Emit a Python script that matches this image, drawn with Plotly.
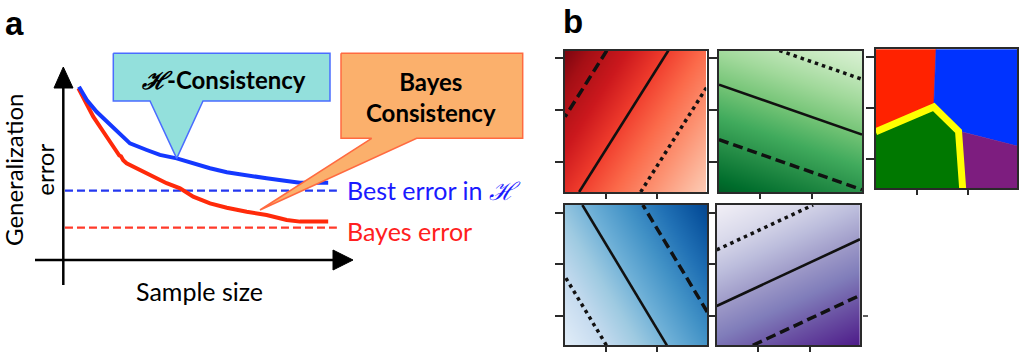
import plotly.graph_objects as go
import plotly.colors as pc

W, H = 1022, 352

# ---------------- Panel a : schematic learning curves ----------------
sample_blue = [0.056, 0.084, 0.119, 0.167, 0.200, 0.208, 0.214, 0.225, 0.238, 0.298, 0.345, 0.405,
               0.464, 0.524, 0.584, 0.655, 0.726, 0.798, 0.845, 0.946]
error_blue = [0.912, 0.842, 0.780, 0.711, 0.668, 0.655, 0.650, 0.628, 0.614, 0.579, 0.553, 0.535,
              0.509, 0.483, 0.462, 0.444, 0.430, 0.416, 0.407, 0.407]
sample_red = [0.054, 0.078, 0.107, 0.143, 0.185, 0.195, 0.200, 0.206, 0.214, 0.226, 0.274, 0.321,
              0.369, 0.417, 0.464, 0.524, 0.584, 0.655, 0.726, 0.798, 0.845, 0.946]
error_red = [0.904, 0.833, 0.754, 0.675, 0.579, 0.562, 0.550, 0.546, 0.525, 0.509, 0.474, 0.438,
             0.404, 0.377, 0.333, 0.298, 0.275, 0.254, 0.237, 0.211, 0.202, 0.202]
best_error_in_H = 0.365
bayes_error = 0.170
level_span = [0.006, 0.977]

# ---------------- Panel b : linear score surfaces (corner values) ----------------
# rows: y=0, y=1 ; columns: x=0, x=1
red_scores = [[0.23, -2.07], [1.68, -0.62]]
green_scores = [[1.95, 1.04], [-0.62, -1.52]]
blue_scores = [[-1.685, 0.668], [-0.287, 2.066]]
purple_scores = [[0.70, 1.89], [-1.80, -0.61]]
contour_levels = [1.0, 0.0, -1.0]
contour_dashes = ["10px,5px", "solid", "3.5px,4px"]

# decision regions (polygon vertices in panel units)
region_red = [(0, 1), (0.426, 1), (0.41, 0.585), (0, 0.407)]
region_blue = [(0.426, 1), (1, 1), (1, 0.304), (0.595, 0.41), (0.41, 0.585)]
region_green = [(0, 0.407), (0.41, 0.585), (0.59, 0.41), (0.614, 0), (0, 0)]
region_purple = [(0.59, 0.41), (1, 0.304), (1, 0), (0.614, 0)]
boundary_yellow = [(0, 0.407), (0.41, 0.585), (0.585, 0.41), (0.614, 0)]

tick_x = [0.289, 0.65]
tick_y = [0.21, 0.578, 0.946]

FONT = "Lato"
fig = go.Figure()

# panel a axes: pixel mapping x=(px-63.3)/280, y=(260-py)/190
XA0, XSC, YA0, YSC = 63.3, 280.0, 260.0, 190.0
ax_a_right = 540
fig.update_layout(
    xaxis=dict(domain=[0, ax_a_right / W], range=[-XA0 / XSC, (ax_a_right - XA0) / XSC],
               visible=False, fixedrange=True),
    yaxis=dict(domain=[0, 1], range=[(YA0 - H) / YSC, YA0 / YSC], visible=False, fixedrange=True),
)

def px(xp):
    return (xp - XA0) / XSC

def py(yp):
    return (YA0 - yp) / YSC

# axes lines with arrows
fig.add_trace(go.Scatter(x=[0, 0], y=[py(285), py(86)], mode="lines",
                         line=dict(color="black", width=2.5), hoverinfo="skip"))
fig.add_trace(go.Scatter(x=[px(35), px(335)], y=[0, 0], mode="lines",
                         line=dict(color="black", width=2.5), hoverinfo="skip"))
fig.add_trace(go.Scatter(x=[px(54), px(63.3), px(73), px(54)], y=[py(88), py(67), py(88), py(88)],
                         mode="lines", fill="toself", fillcolor="black",
                         line=dict(color="black", width=1), hoverinfo="skip"))
fig.add_trace(go.Scatter(x=[px(333), px(353), px(333), px(333)], y=[py(250), py(260), py(270), py(250)],
                         mode="lines", fill="toself", fillcolor="black",
                         line=dict(color="black", width=1), hoverinfo="skip"))

# asymptote levels
fig.add_trace(go.Scatter(x=level_span, y=[best_error_in_H] * 2, mode="lines",
                         line=dict(color="#2438f0", width=2.2, dash="8px,4px"), hoverinfo="skip"))
fig.add_trace(go.Scatter(x=level_span, y=[bayes_error] * 2, mode="lines",
                         line=dict(color="#ff3a2a", width=2.2, dash="8px,4px"), hoverinfo="skip"))
# curves
fig.add_trace(go.Scatter(x=sample_red, y=error_red, mode="lines",
                         line=dict(color="#ff2a0a", width=4), hoverinfo="skip"))
fig.add_trace(go.Scatter(x=sample_blue, y=error_blue, mode="lines",
                         line=dict(color="#1438ff", width=4), hoverinfo="skip"))

# callouts
h_box = [(px(113.3), py(53.3)), (px(330), py(53.3)), (px(330), py(101)), (px(203), py(101)),
         (0.405, 0.535), (px(150), py(101)), (px(113.3), py(101)), (px(113.3), py(53.3))]
fig.add_trace(go.Scatter(x=[p[0] for p in h_box], y=[p[1] for p in h_box], mode="lines",
                         fill="toself", fillcolor="#93e0dc", line=dict(color="#4a6cff", width=1.5),
                         hoverinfo="skip"))
b_box = [(px(341), py(53.3)), (px(522.7), py(53.3)), (px(522.7), py(138.3)), (px(416.7), py(138.3)),
         (px(260), py(210)), (px(371.7), py(138.3)), (px(341), py(138.3)), (px(341), py(53.3))]
fig.add_trace(go.Scatter(x=[p[0] for p in b_box], y=[p[1] for p in b_box], mode="lines",
                         fill="toself", fillcolor="#fbb06c", line=dict(color="#ff6a40", width=1.5),
                         hoverinfo="skip"))

ann = []
ann.append(dict(x=px(223.5), y=py(79), xref="x", yref="y", showarrow=False,
                text="<b><i>ℋ</i>-Consistency</b>", font=dict(family=FONT, size=24, color="black")))
ann.append(dict(x=px(431), y=py(97), xref="x", yref="y", showarrow=False,
                text="<b>Bayes<br>Consistency</b>", font=dict(family=FONT, size=24, color="black")))
ann.append(dict(x=px(345), y=py(190), xref="x", yref="y", showarrow=False, xanchor="left",
                text="Best error in <i>ℋ</i>", font=dict(family=FONT, size=25, color="#1a1aff")))
ann.append(dict(x=px(345), y=py(231), xref="x", yref="y", showarrow=False, xanchor="left",
                text="Bayes error", font=dict(family=FONT, size=25, color="#ff2020")))
ann.append(dict(x=px(199), y=py(291), xref="x", yref="y", showarrow=False,
                text="Sample size", font=dict(family=FONT, size=25, color="black")))
ann.append(dict(x=px(29), y=py(170), xref="x", yref="y", showarrow=False, textangle=-90,
                text="Generalization<br>error", font=dict(family=FONT, size=24, color="black")))
ann.append(dict(x=14 / W, y=1 - 24 / H, xref="paper", yref="paper", showarrow=False,
                xanchor="center", yanchor="middle",
                text="<b>a</b>", font=dict(family="Liberation Sans", size=33, color="black")))
ann.append(dict(x=573 / W, y=1 - 21 / H, xref="paper", yref="paper", showarrow=False,
                xanchor="center", yanchor="middle",
                text="<b>b</b>", font=dict(family="Liberation Sans", size=33, color="black")))

# ---------------- Panel b ----------------
panels = [
    # (axis index, x px range, y px range)
    (2, (565, 706.5), (50.5, 192)),
    (3, (719, 862), (50.5, 192)),
    (4, (875.7, 1017.3), (49.3, 188.3)),
    (5, (565, 707.3), (205, 345.3)),
    (6, (716.7, 860), (205, 345.3)),
]
axis_style = dict(range=[0, 1], showgrid=False, zeroline=False, showline=True, mirror=True,
                  linecolor="#2a2a2a", linewidth=2, ticks="outside", tickcolor="#2a2a2a",
                  tickwidth=1.5, showticklabels=False, fixedrange=True)
for idx, xr, yr in panels:
    fig.layout[f"xaxis{idx}"] = dict(axis_style, domain=[xr[0] / W, xr[1] / W], anchor=f"y{idx}",
                                     tickvals=tick_x, ticklen=5)
    fig.layout[f"yaxis{idx}"] = dict(axis_style, domain=[1 - yr[1] / H, 1 - yr[0] / H], anchor=f"x{idx}",
                                     tickvals=tick_y, ticklen=8)

def cs(cols):
    n = len(cols)
    return [[i / (n - 1), c] for i, c in enumerate(cols)]

score_panels = [
    (2, red_scores, pc.sequential.Reds, -3.0, 1.9),
    (3, green_scores, pc.sequential.Greens, -2.3, 2.3),
    (5, blue_scores, pc.sequential.Blues, -2.2, 2.45),
    (6, purple_scores, pc.sequential.Purples, -2.3, 2.3),
]
for idx, z, cols, zmin, zmax in score_panels:
    fig.add_trace(go.Heatmap(x=[0, 1], y=[0, 1], z=z, colorscale=cs(cols), zmin=zmin, zmax=zmax,
                             zsmooth="best", showscale=False, hoverinfo="skip",
                             xaxis=f"x{idx}", yaxis=f"y{idx}"))
    for lev, dash in zip(contour_levels, contour_dashes):
        fig.add_trace(go.Contour(x=[0, 1], y=[0, 1], z=z, autocontour=False,
                                 contours=dict(start=lev, end=lev, size=10, coloring="none"),
                                 line=dict(color="#111111", width=3.5 if dash != "solid" else 2.6, dash=dash),
                                 showscale=False, hoverinfo="skip", xaxis=f"x{idx}", yaxis=f"y{idx}"))

for poly, col in [(region_red, "#ff2200"), (region_blue, "#0033ff"),
                  (region_green, "#007800"), (region_purple, "#7d1d7f")]:
    xs = [p[0] for p in poly] + [poly[0][0]]
    ys = [p[1] for p in poly] + [poly[0][1]]
    fig.add_trace(go.Scatter(x=xs, y=ys, mode="lines", fill="toself", fillcolor=col,
                             line=dict(color=col, width=0.5), hoverinfo="skip",
                             xaxis="x4", yaxis="y4"))
fig.add_trace(go.Scatter(x=[p[0] for p in boundary_yellow], y=[p[1] for p in boundary_yellow],
                         mode="lines", line=dict(color="#ffff00", width=7), hoverinfo="skip",
                         xaxis="x4", yaxis="y4"))

fig.update_layout(
    width=W, height=H, margin=dict(l=0, r=0, t=0, b=0),
    paper_bgcolor="white", plot_bgcolor="white", showlegend=False,
    annotations=ann, hovermode=False,
    shapes=[dict(type="line", xref="paper", yref="paper", x0=863 / W, x1=868 / W,
                 y0=1 - 316 / H, y1=1 - 316 / H, line=dict(color="#2a2a2a", width=1.5))],
)

fig.write_html("out.html", config={"displayModeBar": False})
